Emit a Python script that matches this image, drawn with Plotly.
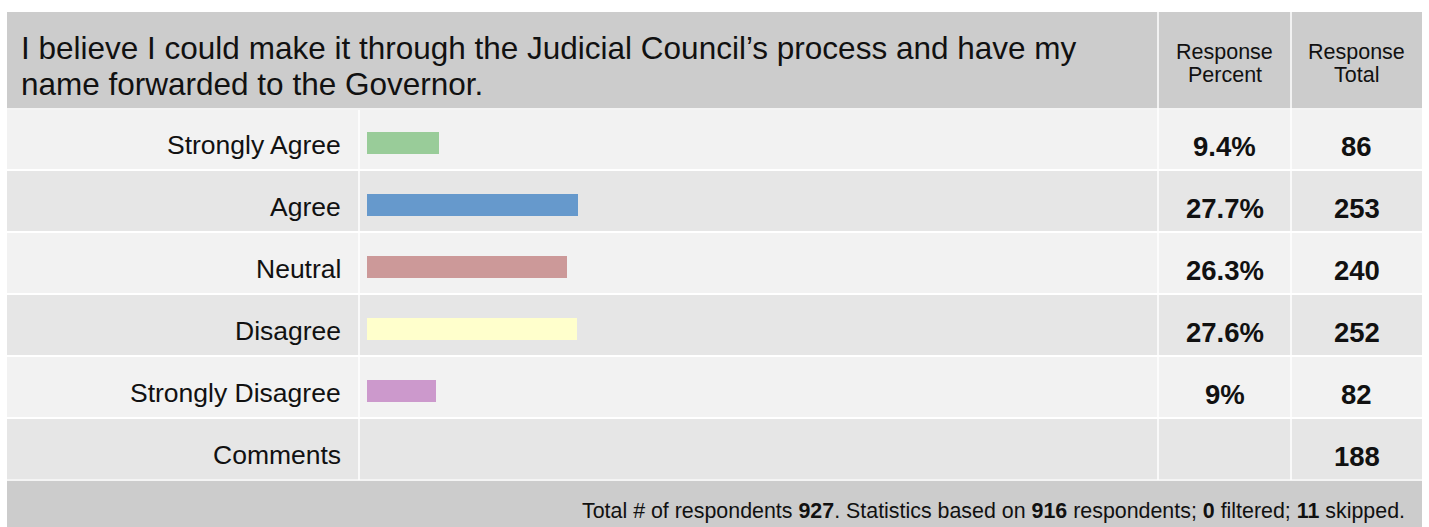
import plotly.graph_objects as go

# survey data
question_lines = [
    "I believe I could make it through the Judicial Council\u2019s process and have my",
    "name forwarded to the Governor.",
]
answers = ["Strongly Agree", "Agree", "Neutral", "Disagree", "Strongly Disagree"]
percents = [9.4, 27.7, 26.3, 27.6, 9.0]
totals = [86, 253, 240, 252, 82]
bar_colors = ["#99cc99", "#6699cc", "#cc9999", "#ffffcc", "#cc99cc"]
comments_label = "Comments"
comments_total = 188
n_total = 927
n_based = 916
n_filtered = 0
n_skipped = 11
col_heads = [["Response", "Percent"], ["Response", "Total"]]

W, H = 1429, 527
FONT = "Liberation Sans, Arial, sans-serif"

# table geometry in pixels
left, right = 7, 1422
col_bar, col_pct, col_tot = 359, 1158, 1291
head_top, head_bot = 12, 108
row_top, row_h = 110, 62
n_rows = len(answers) + 1
foot_top = row_top + row_h * n_rows - 2

cats = answers + [comments_label]

fig = go.Figure()

fig.add_trace(
    go.Bar(
        x=percents,
        y=answers,
        orientation="h",
        marker=dict(color=bar_colors, line=dict(width=0)),
        width=0.35,
        xaxis="x2",
        yaxis="y2",
        hoverinfo="skip",
        showlegend=False,
    )
)

shapes = []
# header band
shapes.append(dict(type="rect", xref="x", yref="y", x0=left, x1=right, y0=head_top, y1=head_bot,
                   fillcolor="#cccccc", line=dict(width=0), layer="below"))
# body rows
for i in range(n_rows):
    y0 = row_top + i * row_h
    shapes.append(dict(type="rect", xref="x", yref="y", x0=left, x1=right, y0=y0 - 2, y1=y0 + row_h - 2,
                       fillcolor="#f2f2f2" if i % 2 == 0 else "#e6e6e6",
                       line=dict(width=0), layer="below"))
    if i > 0:
        shapes.append(dict(type="line", xref="x", yref="y", x0=left, x1=right, y0=y0 - 2, y1=y0 - 2,
                           line=dict(color="#ffffff", width=2), layer="below"))
# footer band
shapes.append(dict(type="rect", xref="x", yref="y", x0=left, x1=right, y0=foot_top, y1=H,
                   fillcolor="#cccccc", line=dict(width=0), layer="below"))
shapes.append(dict(type="line", xref="x", yref="y", x0=left, x1=right, y0=foot_top, y1=foot_top,
                   line=dict(color="#f4f4f4", width=2), layer="below"))
shapes.append(dict(type="line", xref="x", yref="y", x0=left, x1=right, y0=head_bot + 1, y1=head_bot + 1,
                   line=dict(color="#f4f4f4", width=2), layer="below"))
# column separators
for cx, ytop in [(col_bar, head_bot + 2), (col_pct, head_top), (col_tot, head_top)]:
    shapes.append(dict(type="line", xref="x", yref="y", x0=cx, x1=cx, y0=ytop, y1=foot_top,
                       line=dict(color="#ffffff", width=1.5), layer="below"))

annotations = []
# question text
for k, line in enumerate(question_lines):
    annotations.append(dict(x=19, y=48 + 36 * k, xref="x", yref="y", text=line, showarrow=False,
                            xanchor="left", yanchor="middle",
                            font=dict(family=FONT, size=31.5, color="#111111")))
# column headers
for cx, lines in [((col_pct + col_tot) / 2, col_heads[0]), ((col_tot + right) / 2, col_heads[1])]:
    for k, t in enumerate(lines):
        annotations.append(dict(x=cx, y=52 + 23 * k, xref="x", yref="y", text=t, showarrow=False,
                                xanchor="center", yanchor="middle",
                                font=dict(family=FONT, size=21.5, color="#111111")))
# row labels and values
for i, cat in enumerate(cats):
    yc = row_top + i * row_h + 35
    annotations.append(dict(x=343, y=yc, xref="x", yref="y", text=cat, showarrow=False,
                            xanchor="right", yanchor="middle",
                            font=dict(family=FONT, size=26.5, color="#111111")))
    if i < len(answers):
        annotations.append(dict(x=(col_pct + col_tot) / 2, y=yc + 1, xref="x", yref="y",
                                text=f"<b>{percents[i]:g}%</b>", showarrow=False,
                                xanchor="center", yanchor="middle",
                                font=dict(family=FONT, size=27.5, color="#111111")))
        tot = totals[i]
    else:
        tot = comments_total
    annotations.append(dict(x=(col_tot + right) / 2, y=yc + 1, xref="x", yref="y",
                            text=f"<b>{tot}</b>", showarrow=False,
                            xanchor="center", yanchor="middle",
                            font=dict(family=FONT, size=27.5, color="#111111")))
# footer
footer = (f"Total # of respondents <b>{n_total}</b>. Statistics based on <b>{n_based}</b> respondents; "
          f"<b>{n_filtered}</b> filtered; <b>{n_skipped}</b> skipped.")
annotations.append(dict(x=1407, y=511, xref="x", yref="y", text=footer, showarrow=False,
                        xanchor="right", yanchor="middle",
                        font=dict(family=FONT, size=21.4, color="#111111")))

bar_top = 111.5
bar_bot = bar_top + row_h * n_rows
fig.update_layout(
    width=W,
    height=H,
    margin=dict(l=0, r=0, t=0, b=0),
    paper_bgcolor="#ffffff",
    plot_bgcolor="rgba(0,0,0,0)",
    xaxis=dict(range=[0, W], domain=[0, 1], visible=False, fixedrange=True),
    yaxis=dict(range=[H, 0], domain=[0, 1], visible=False, fixedrange=True),
    xaxis2=dict(range=[0, 100], domain=[367 / W, (367 + 762) / W], anchor="y2",
                visible=False, fixedrange=True),
    yaxis2=dict(categoryorder="array", categoryarray=cats, type="category",
                range=[n_rows - 0.5, -0.5], domain=[1 - bar_bot / H, 1 - bar_top / H],
                anchor="x2", visible=False, fixedrange=True),
    shapes=shapes,
    annotations=annotations,
    bargap=0,
)

# drop the default page margin so the figure fills the window
fig.write_html(
    "out.html",
    config={"displayModeBar": False},
    post_script="document.body.style.margin='0';document.body.style.overflow='hidden';",
)
